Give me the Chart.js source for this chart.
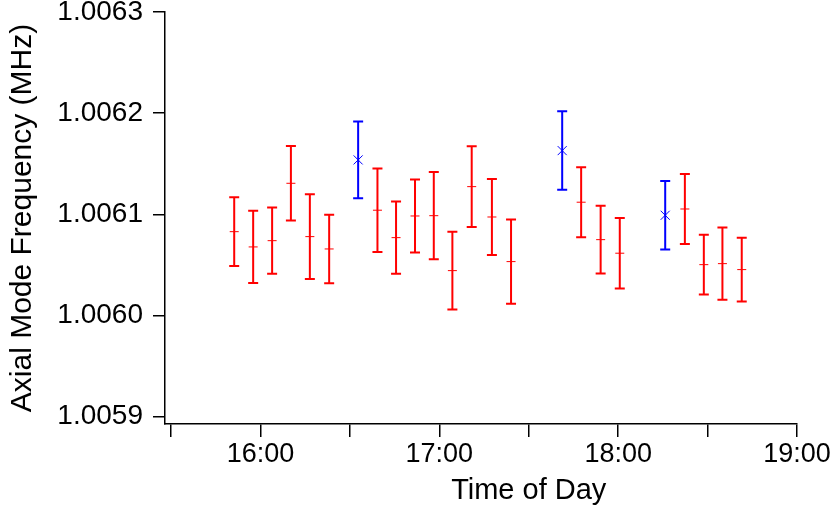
<!DOCTYPE html>
<html>
<head>
<meta charset="utf-8">
<script src="https://cdn.jsdelivr.net/npm/chart.js@4/dist/chart.umd.min.js"></script>
<style>
    body { margin: 0; background: #fff; }
    #wrap { width: 830px; height: 508px; }
</style>
</head>
<body>
<div id="wrap"><canvas id="chart"></canvas></div>
<script>
// Medições em vermelho (hora do dia em horas decimais)
const redTimes = [15.853, 15.959, 16.065, 16.170, 16.276, 16.384, 16.654, 16.758, 16.864, 16.969,
    17.073, 17.181, 17.294, 17.401, 17.793, 17.902, 18.009, 18.373, 18.479, 18.583, 18.691];
const redFreq = [1.0060829, 1.0060678, 1.0060740, 1.0061307, 1.0060780, 1.0060658, 1.0061041, 1.0060770,
    1.0060984, 1.0060987, 1.0060444, 1.0061274, 1.0060974, 1.0060533, 1.0061120, 1.0060750, 1.0060616,
    1.0061053, 1.0060503, 1.0060513, 1.0060454];
const redErr = [0.0000339, 0.0000357, 0.0000328, 0.0000368, 0.0000418, 0.0000339, 0.0000412, 0.0000356,
    0.0000361, 0.0000431, 0.0000384, 0.0000400, 0.0000375, 0.0000417, 0.0000346, 0.0000334, 0.0000349,
    0.0000347, 0.0000295, 0.0000356, 0.0000315];

// Medições em azul
const blueTimes = [16.546, 17.687, 18.263];
const blueFreq = [1.0061538, 1.0061630, 1.0060991];
const blueErr = [0.0000380, 0.0000388, 0.0000339];

// Marcas dos eixos
const xTickValues = [15.5, 16, 16.5, 17, 17.5, 18, 18.5, 19];
const yTickValues = [1.0059, 1.0060, 1.0061, 1.0062, 1.0063];

const FONT = '"Liberation Sans", Arial, sans-serif';

// Montar pontos para o gráfico
function buildPoints(times, values, errors) {
    return times.map((t, i) => ({ x: t, y: values[i], err: errors[i] }));
}

// Plugin para desenhar as barras de erro usando as escalas do gráfico
const errorBarPlugin = {
    id: 'errorBars',
    beforeDatasetsDraw(chart) {
        const ctx = chart.ctx;
        const yScale = chart.scales.y;
        const xScale = chart.scales.x;
        chart.data.datasets.forEach(ds => {
            ctx.save();
            ctx.strokeStyle = ds.borderColor;
            ctx.lineWidth = 2;
            ds.data.forEach(p => {
                const x = xScale.getPixelForValue(p.x);
                const yTop = yScale.getPixelForValue(p.y + p.err);
                const yBot = yScale.getPixelForValue(p.y - p.err);
                ctx.beginPath();
                ctx.moveTo(x, yTop);
                ctx.lineTo(x, yBot);
                ctx.moveTo(x - 5, yTop);
                ctx.lineTo(x + 5, yTop);
                ctx.moveTo(x - 5, yBot);
                ctx.lineTo(x + 5, yBot);
                ctx.stroke();
            });
            ctx.restore();
        });
    }
};

// Título do eixo X centrado nas horas cheias
const xTitlePlugin = {
    id: 'xTitle',
    afterDraw(chart) {
        const ctx = chart.ctx;
        const xScale = chart.scales.x;
        const hours = xTickValues.filter(v => Number.isInteger(v));
        const cx = (xScale.getPixelForValue(hours[0]) + xScale.getPixelForValue(hours[hours.length - 1])) / 2;
        ctx.save();
        ctx.fillStyle = '#000';
        ctx.font = '29px ' + FONT;
        ctx.textAlign = 'center';
        ctx.textBaseline = 'middle';
        ctx.fillText('Time of Day', cx, 491);
        ctx.restore();
    }
};

const ctx = document.getElementById('chart').getContext('2d');
new Chart(ctx, {
    type: 'scatter',
    data: {
        datasets: [
            {
                data: buildPoints(redTimes, redFreq, redErr),
                borderColor: '#ff0000',
                backgroundColor: '#ff0000',
                pointStyle: 'line',
                pointRadius: 4.5,
                borderWidth: 1
            },
            {
                data: buildPoints(blueTimes, blueFreq, blueErr),
                borderColor: '#0000ff',
                backgroundColor: '#0000ff',
                pointStyle: 'crossRot',
                pointRadius: 6.4,
                borderWidth: 1
            }
        ]
    },
    options: {
        responsive: true,
        maintainAspectRatio: false,
        animation: false,
        layout: { padding: { top: 12, right: 33, left: 0, bottom: 0 } },
        plugins: {
            legend: { display: false },
            tooltip: { enabled: false }
        },
        scales: {
            x: {
                type: 'linear',
                min: 15.466,
                max: 19,
                grid: { drawOnChartArea: false, drawTicks: true, tickLength: 13, color: '#000', lineWidth: 1.5 },
                border: { display: true, color: '#000', width: 1.5 },
                afterBuildTicks: scale => { scale.ticks = xTickValues.map(v => ({ value: v })); },
                afterFit: scale => {
                    scale.height = 84;
                    scale.paddingLeft = 0;
                    scale.paddingRight = 0;
                },
                ticks: {
                    autoSkip: false,
                    maxRotation: 0,
                    padding: 1,
                    color: '#000',
                    font: { family: FONT, size: 27 },
                    callback: v => Number.isInteger(v) ? v + ':00' : ''
                }
            },
            y: {
                min: 1.0058928,
                max: 1.0063,
                grid: { drawOnChartArea: false, drawTicks: true, tickLength: 12, color: '#000', lineWidth: 1.5 },
                border: { display: true, color: '#000', width: 1.5 },
                afterBuildTicks: scale => { scale.ticks = yTickValues.map(v => ({ value: v })); },
                afterFit: scale => {
                    scale.width = 165;
                    scale.paddingTop = 0;
                    scale.paddingBottom = 0;
                },
                title: {
                    display: true,
                    text: 'Axial Mode Frequency (MHz)',
                    color: '#000',
                    font: { family: FONT, size: 30 },
                    padding: { top: 5, bottom: 0 }
                },
                ticks: {
                    padding: 10,
                    color: '#000',
                    font: { family: FONT, size: 28 },
                    callback: v => v.toFixed(4)
                }
            }
        }
    },
    plugins: [errorBarPlugin, xTitlePlugin]
});
</script>
</body>
</html>
